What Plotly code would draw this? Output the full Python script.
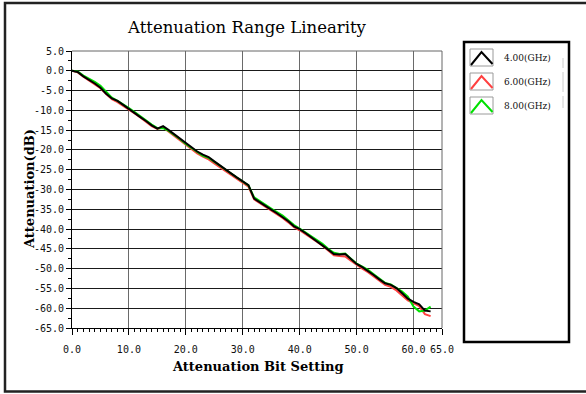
import plotly.graph_objects as go

# ---------------- data ----------------
bit_setting = list(range(0, 64))

atten_4ghz = [0.0, -0.3, -1.4, -2.2, -3.2, -4.3, -5.8, -7.0, -7.6, -8.6,
              -9.7, -10.7, -11.7, -12.7, -13.8, -14.6, -14.0, -15.0, -16.1, -17.2,
              -18.4, -19.4, -20.4, -21.2, -21.8, -22.9, -24.0, -25.0, -26.0, -27.0,
              -27.9, -28.9, -32.3, -33.3, -34.3, -35.1, -36.0, -37.0, -38.0, -39.3,
              -40.0, -41.0, -42.0, -43.0, -44.0, -45.2, -46.3, -46.4, -46.3, -47.6,
              -48.8, -49.6, -50.5, -51.6, -52.7, -53.7, -54.1, -54.9, -56.2, -57.6,
              -58.4, -59.0, -60.6, -60.8]

atten_6ghz = [0.0, -0.4, -1.5, -2.4, -3.3, -4.4, -5.9, -7.2, -7.9, -8.8,
              -9.8, -10.8, -11.8, -12.9, -14.0, -14.7, -14.3, -15.4, -16.5, -17.6,
              -18.8, -19.8, -20.9, -21.7, -22.4, -23.4, -24.4, -25.4, -26.4, -27.4,
              -28.3, -29.3, -32.5, -33.4, -34.4, -35.3, -36.2, -37.2, -38.3, -39.5,
              -40.3, -41.2, -42.2, -43.2, -44.2, -45.4, -46.6, -46.8, -46.9, -48.0,
              -49.1, -50.0, -50.9, -52.0, -53.1, -54.1, -54.6, -55.5, -56.8, -58.0,
              -58.7, -59.5, -61.5, -62.0]

atten_8ghz = [0.0, -0.2, -1.2, -1.9, -2.8, -3.8, -5.3, -6.8, -7.6, -8.4,
              -9.4, -10.4, -11.5, -12.5, -13.6, -14.5, -14.5, -15.2, -16.2, -17.3,
              -18.5, -19.5, -20.4, -21.5, -22.0, -22.9, -24.0, -25.0, -26.0, -27.0,
              -28.0, -29.0, -32.0, -33.0, -33.9, -34.8, -35.7, -36.6, -37.8, -39.0,
              -39.9, -40.8, -41.7, -42.7, -43.7, -45.0, -46.0, -46.3, -46.2, -47.5,
              -48.7, -49.5, -50.3, -51.4, -52.6, -53.6, -54.0, -54.8, -55.8, -57.1,
              -59.6, -60.8, -60.6, -59.6]

series_names = ["4.00(GHz)", "6.00(GHz)", "8.00(GHz)"]
series_colors = ["#000000", "#ff4040", "#00e000"]

x_tickvals = [0, 10, 20, 30, 40, 50, 60, 65]
x_ticktext = ["0.0", "10.0", "20.0", "30.0", "40.0", "50.0", "60.0", "65.0"]
y_tickvals = [5, 0, -5, -10, -15, -20, -25, -30, -35, -40, -45, -50, -55, -60, -65]
y_ticktext = ["%.1f" % v for v in y_tickvals]

# ---------------- layout geometry (pixels) ----------------
W, H = 586, 394
L, R, T, B = 72, 144, 51, 66
PW, PH = W - L - R, H - T - B


def px(x):
    return (x - L) / PW


def py(y):
    return (H - B - y) / PH


fig = go.Figure()
values = [atten_4ghz, atten_6ghz, atten_8ghz]
draw_order = [1, 2, 0]
for i in draw_order:
    fig.add_trace(go.Scatter(x=bit_setting, y=values[i], mode="lines",
                             name=series_names[i],
                             line=dict(color=series_colors[i], width=2),
                             showlegend=False))

tick_font = dict(family="DejaVu Sans Mono", size=10, color="#111111")
fig.update_xaxes(range=[0, 65], tickmode="array", tickvals=x_tickvals, ticktext=x_ticktext,
                 showgrid=True, gridcolor="#6a6a6a", gridwidth=1, zeroline=False,
                 showline=True, linecolor="#000000", linewidth=1,
                 ticks="outside", ticklen=6, tickcolor="#000000", tickfont=tick_font,
                 ticklabelstandoff=6,
                 minor=dict(tickmode="linear", tick0=0, dtick=1, ticks="outside",
                            ticklen=3, tickcolor="#000000", showgrid=False))
fig.update_yaxes(range=[-65, 5], tickmode="array", tickvals=y_tickvals, ticktext=y_ticktext,
                 showgrid=True, gridcolor="#1a1a1a", gridwidth=1, zeroline=False,
                 showline=True, linecolor="#000000", linewidth=1,
                 ticks="outside", ticklen=5, tickcolor="#000000", tickfont=tick_font,
                 minor=dict(tickmode="linear", tick0=2.5, dtick=5, ticks="outside",
                            ticklen=3, tickcolor="#000000", showgrid=False))

shapes = []
# top / right frame of plot area (gray)
shapes.append(dict(type="line", xref="paper", yref="paper", x0=0, x1=1, y0=1, y1=1,
                   line=dict(color="#666666", width=1)))
shapes.append(dict(type="line", xref="paper", yref="paper", x0=1, x1=1, y0=0, y1=1,
                   line=dict(color="#666666", width=1)))
# outer border
shapes.append(dict(type="rect", xref="paper", yref="paper",
                   x0=px(5), x1=px(592), y0=py(391.5), y1=py(3),
                   line=dict(color="#222222", width=2.5)))
# legend box
shapes.append(dict(type="rect", xref="paper", yref="paper",
                   x0=px(464), x1=px(569), y0=py(342), y1=py(42),
                   line=dict(color="#000000", width=2.5), fillcolor="rgba(0,0,0,0)"))
# faint scroll-bar marks
for (a, b) in [(58, 68), (72, 92), (96, 108)]:
    shapes.append(dict(type="line", xref="paper", yref="paper",
                       x0=px(563), x1=px(563), y0=py(b), y1=py(a),
                       line=dict(color="#cccccc", width=1)))

annotations = []
row_centers = [58, 82, 106]
for name, color, cy in zip(series_names, series_colors, row_centers):
    top, bot = cy - 9, cy + 8
    shapes.append(dict(type="rect", xref="paper", yref="paper",
                       x0=px(470), x1=px(493), y0=py(bot), y1=py(top),
                       line=dict(color="#9a9a9a", width=1)))
    path = "M %f,%f L %f,%f L %f,%f" % (px(471), py(bot - 1), px(481.5), py(top + 3),
                                         px(492.5), py(bot - 2))
    shapes.append(dict(type="path", xref="paper", yref="paper", path=path,
                       line=dict(color=color, width=2)))
    annotations.append(dict(text=name, xref="paper", yref="paper", x=px(502), y=py(cy),
                            xanchor="left", yanchor="middle", showarrow=False,
                            font=dict(family="DejaVu Serif", size=9, color="#111111")))

# title and axis titles
annotations.append(dict(text="Attenuation Range Linearity", xref="paper", yref="paper",
                        x=px(247), y=py(27), xanchor="center", yanchor="middle",
                        showarrow=False,
                        font=dict(family="DejaVu Serif", size=16.5, color="#000000")))
annotations.append(dict(text="<b>Attenuation Bit Setting</b>", xref="paper", yref="paper",
                        x=px(258), y=py(366), xanchor="center", yanchor="middle",
                        showarrow=False,
                        font=dict(family="DejaVu Serif", size=13, color="#000000")))
annotations.append(dict(text="<b>Attenuation(dB)</b>", xref="paper", yref="paper",
                        x=px(29), y=py(189), xanchor="center", yanchor="middle",
                        showarrow=False, textangle=-90,
                        font=dict(family="DejaVu Serif", size=13, color="#000000")))

fig.update_layout(width=W, height=H, margin=dict(l=L, r=R, t=T, b=B),
                  paper_bgcolor="#ffffff", plot_bgcolor="#ffffff",
                  shapes=shapes, annotations=annotations, showlegend=False)

fig.write_html("out.html", config={"displayModeBar": False},
               post_script="document.body.style.margin='0';document.body.style.overflow='hidden';")
